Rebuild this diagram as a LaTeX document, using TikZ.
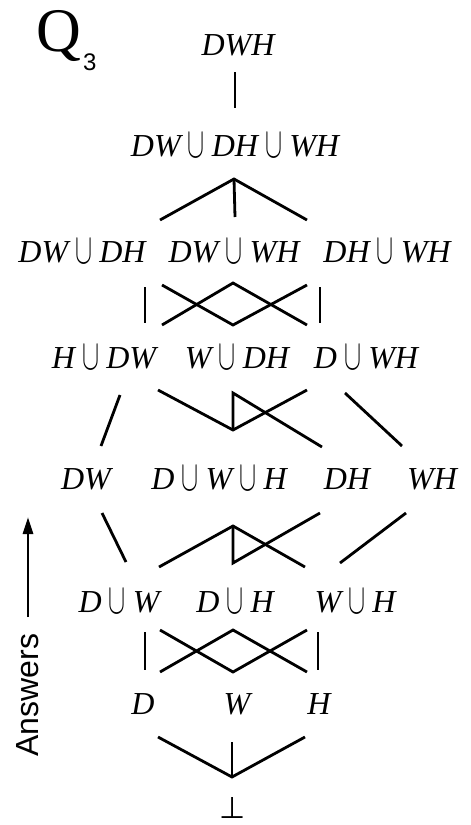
\RequirePackage{fix-cm}
\documentclass[tikz,border=0pt]{standalone}
\usepackage{graphicx}
\usepackage{fontspec}
\setmainfont{Liberation Serif}
\newfontfamily\arialfont{Liberation Sans}
\newfontfamily\dejavufont{DejaVu Sans}
\usetikzlibrary{arrows.meta}
\newcommand{\ucup}{\mathbin{\raisebox{-1pt}{\resizebox{17pt}{24pt}{$\cup$}}}}
\begin{document}
\begin{tikzpicture}[x=1pt,y=-1pt,
  lbl/.style={inner sep=0pt, anchor=base, font=\fontsize{32}{36}\selectfont},
  edge/.style={line width=2.8pt}]
\useasboundingbox (0,0) rectangle (471,825);
% title
\node[inner sep=0pt, anchor=base, font=\fontsize{62}{62}\selectfont] (q) at (59,51) {Q};
\node[inner sep=0pt, anchor=base west, font=\arialfont\fontsize{24}{24}\selectfont] (q3) at (83,70) {3};
% labels
\node[lbl] (top) at (238,55) {$\textit{DWH}$};
\node[lbl] (r2) at (235,156) {$\textit{DW}\ucup\textit{DH}\ucup\textit{WH}$};
\node[lbl] (r3a) at (82,262) {$\textit{DW}\ucup\textit{DH}$};
\node[lbl] (r3b) at (234,262) {$\textit{DW}\ucup\textit{WH}$};
\node[lbl] (r3c) at (387,262) {$\textit{DH}\ucup\textit{WH}$};
\node[lbl] (r4a) at (104,368) {$\textit{H}\ucup\textit{DW}$};
\node[lbl] (r4b) at (237,368) {$\textit{W}\ucup\textit{DH}$};
\node[lbl] (r4c) at (366,368) {$\textit{D}\ucup\textit{WH}$};
\node[lbl] (r5a) at (86,489) {$\textit{DW}$};
\node[lbl] (r5b) at (219,489) {$\textit{D}\ucup\textit{W}\ucup\textit{H}$};
\node[lbl] (r5c) at (347,489) {$\textit{DH}$};
\node[lbl] (r5d) at (432,489) {$\textit{WH}$};
\node[lbl] (r6a) at (119,612) {$\textit{D}\ucup\textit{W}$};
\node[lbl] (r6b) at (235,612) {$\textit{D}\ucup\textit{H}$};
\node[lbl] (r6c) at (355,612) {$\textit{W}\ucup\textit{H}$};
\node[lbl] (r7a) at (143,714) {$\textit{D}$};
\node[lbl] (r7b) at (237,714) {$\textit{W}$};
\node[lbl] (r7c) at (319,714) {$\textit{H}$};
\node[inner sep=0pt, anchor=base, font=\dejavufont\fontsize{30}{30}\selectfont] (bot) at (232.5,818) {⊥};
% answers arrow
\coordinate (ar0) at (28,617);
\coordinate (ar1) at (28,517);
\draw[line width=2.8pt, -{Triangle[length=17pt,width=10pt]}] (ar0) -- (ar1);
\node[inner sep=0pt, anchor=base, rotate=90, font=\arialfont\fontsize{32}{32}\selectfont] (ans) at (38,695) {Answers};
% block 0
\coordinate (a0) at (235,72); \coordinate (a1) at (235,108);
\draw[edge] (a0) -- (a1);
% block 1 fan
\coordinate (f0) at (234,179);
\coordinate (f1) at (160,220); \coordinate (f2) at (235,217); \coordinate (f3) at (307,220);
\draw[edge] (f1) -- (f0) -- (f3);
\draw[edge] (f0) -- (f2);
% block 2
\coordinate (b1) at (145,287); \coordinate (b2) at (145,323);
\coordinate (b3) at (320,287); \coordinate (b4) at (320,323);
\coordinate (b5) at (162,285); \coordinate (b6) at (233,325); \coordinate (b7) at (307,285);
\coordinate (b8) at (162,325); \coordinate (b9) at (233,283); \coordinate (b10) at (307,325);
\draw[edge] (b1) -- (b2);
\draw[edge] (b3) -- (b4);
\draw[edge] (b5) -- (b6) -- (b7);
\draw[edge] (b8) -- (b9) -- (b10);
% block 3
\coordinate (c1) at (120,395); \coordinate (c2) at (101,446);
\coordinate (c3) at (158,390); \coordinate (c4) at (233,430); \coordinate (c5) at (307,390);
\coordinate (c6) at (233,393); \coordinate (c7) at (322,447);
\coordinate (c8) at (345,393); \coordinate (c9) at (402,446);
\draw[edge] (c1) -- (c2);
\draw[edge] (c3) -- (c4) -- (c5);
\draw[edge] (c4) -- (c6) -- (c7);
\draw[edge] (c8) -- (c9);
% block 4
\coordinate (d1) at (102,513); \coordinate (d2) at (126,562);
\coordinate (d3) at (159,567); \coordinate (d4) at (233,526); \coordinate (d5) at (305,567);
\coordinate (d6) at (233,563); \coordinate (d7) at (320,513);
\coordinate (d8) at (340,563); \coordinate (d9) at (406,513);
\draw[edge] (d1) -- (d2);
\draw[edge] (d3) -- (d4) -- (d5);
\draw[edge] (d4) -- (d6) -- (d7);
\draw[edge] (d8) -- (d9);
% block 5
\coordinate (e1) at (145,632); \coordinate (e2) at (145,670);
\coordinate (e3) at (318,632); \coordinate (e4) at (318,670);
\coordinate (e5) at (160,630); \coordinate (e6) at (233,672); \coordinate (e7) at (307,630);
\coordinate (e8) at (160,672); \coordinate (e9) at (233,630); \coordinate (e10) at (307,672);
\draw[edge] (e1) -- (e2);
\draw[edge] (e3) -- (e4);
\draw[edge] (e5) -- (e6) -- (e7);
\draw[edge] (e8) -- (e9) -- (e10);
% block 6
\coordinate (g1) at (158,737); \coordinate (g2) at (232,777); \coordinate (g3) at (305,737);
\coordinate (g4) at (232,742);
\draw[edge] (g1) -- (g2) -- (g3);
\draw[edge] (g4) -- (g2);
\end{tikzpicture}
\end{document}
